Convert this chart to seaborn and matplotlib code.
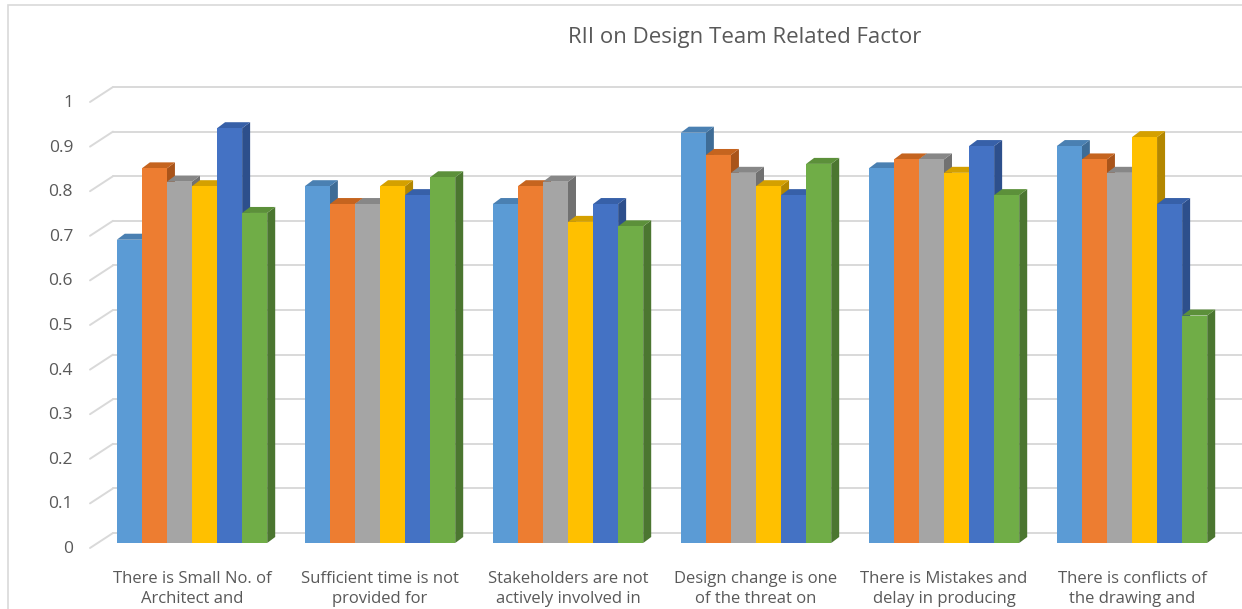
import matplotlib
matplotlib.use("Agg")
import matplotlib.pyplot as plt
from matplotlib.patches import Polygon, Rectangle
from matplotlib.lines import Line2D
import seaborn as sns
import pandas as pd
import numpy as np

# ---- data -------------------------------------------------------------
categories = [
    "There is Small No. of\nArchitect and",
    "Sufficient time is not\nprovided for",
    "Stakeholders are not\nactively involved in",
    "Design change is one\nof the threat on",
    "There is Mistakes and\ndelay in producing",
    "There is conflicts of\nthe drawing and",
]
series_names = ["S1", "S2", "S3", "S4", "S5", "S6"]
s1 = [0.68, 0.80, 0.76, 0.92, 0.84, 0.89]
s2 = [0.84, 0.76, 0.80, 0.87, 0.86, 0.86]
s3 = [0.81, 0.76, 0.81, 0.83, 0.86, 0.83]
s4 = [0.80, 0.80, 0.72, 0.80, 0.83, 0.91]
s5 = [0.93, 0.78, 0.76, 0.78, 0.89, 0.76]
s6 = [0.74, 0.82, 0.71, 0.85, 0.78, 0.51]
y_ticks = [0, 0.1, 0.2, 0.3, 0.4, 0.5, 0.6, 0.7, 0.8, 0.9, 1]
y_tick_labels = ["0", "0.1", "0.2", "0.3", "0.4", "0.5", "0.6", "0.7", "0.8", "0.9", "1"]
title = "RII on Design Team Related Factor"

front_colors = ["#5B9BD5", "#ED7D31", "#A5A5A5", "#FFC000", "#4472C4", "#70AD47"]
top_colors = ["#4A80B2", "#C5641F", "#878787", "#D4A000", "#3760A8", "#5C903A"]
side_colors = ["#3E6C96", "#A9541A", "#717171", "#B38700", "#2D4F8C", "#4B7630"]

all_series = [s1, s2, s3, s4, s5, s6]
df = pd.DataFrame({
    "category": np.repeat(categories, len(series_names)),
    "series": series_names * len(categories),
    "value": [all_series[k][i] for i in range(len(categories)) for k in range(len(series_names))],
})

# ---- figure / axes ----------------------------------------------------
W, H, DPI = 1242, 609, 100
sns.set_theme(style="white")
plt.rcParams["font.family"] = ["Open Sans", "DejaVu Sans"]
fig = plt.figure(figsize=(W / DPI, H / DPI), dpi=DPI)
fig.patch.set_facecolor("white")

ax_left, ax_right = 90, W
ax_top, ax_bottom = 60, 549
ax = fig.add_axes([ax_left / W, 1 - ax_bottom / H,
                   (ax_right - ax_left) / W, (ax_bottom - ax_top) / H])
ax.set_facecolor("none")

sns.barplot(data=df, x="category", y="value", hue="series", order=categories,
            hue_order=series_names, palette=front_colors, width=0.8,
            saturation=1, legend=False, ax=ax, linewidth=0, edgecolor="none")

# scale: 446 px per unit, baseline 6 px above axes bottom; 188 px per category
px_per_y = 446.0
px_per_x = 188.0
ylo = -6 / px_per_y
ax.set_ylim(ylo, ylo + (ax_bottom - ax_top) / px_per_y)
xlo = -(192 - ax_left) / px_per_x
ax.set_xlim(xlo, xlo + (ax_right - ax_left) / px_per_x)

for sp in ax.spines.values():
    sp.set_visible(False)
ax.set_xlabel("")
ax.set_ylabel("")
ax.set_yticks([])
ax.tick_params(axis="x", length=0, pad=16, labelsize=12, labelcolor="#595959")
for lab in ax.get_xticklabels():
    lab.set_linespacing(1.28)

# ---- back wall gridlines (oblique) ------------------------------------
grid_col = "#D9D9D9"
dx_back = 23 / px_per_x
for v, t in zip(y_ticks, y_tick_labels):
    y_front = v - 5 / px_per_y
    y_back = v + 10 / px_per_y
    ax.add_line(Line2D([xlo, xlo + dx_back], [y_front, y_back], color=grid_col,
                       lw=1.4, zorder=0.5, clip_on=False))
    ax.add_line(Line2D([xlo + dx_back, xlo + (ax_right - ax_left) / px_per_x + 1],
                       [y_back, y_back], color=grid_col, lw=1.4, zorder=0.5,
                       clip_on=False))
    ax.text(xlo - 17 / px_per_x, v - 6 / px_per_y, t, ha="right", va="center",
            fontsize=12.5, color="#595959")

# ---- 3D faces for each bar --------------------------------------------
ddx = 8 / px_per_x
ddy = 6 / px_per_y
for k, cont in enumerate(ax.containers):
    z = 2 + k
    for p in cont.patches:
        p.set_zorder(z)
        x0 = p.get_x()
        x1 = x0 + p.get_width()
        h = p.get_height()
        top = Polygon([(x0, h), (x1, h), (x1 + ddx, h + ddy), (x0 + ddx, h + ddy)],
                      closed=True, facecolor=top_colors[k], edgecolor="none",
                      zorder=z - 0.1)
        side = Polygon([(x1, 0), (x1, h), (x1 + ddx, h + ddy), (x1 + ddx, ddy)],
                       closed=True, facecolor=side_colors[k], edgecolor="none",
                       zorder=z - 0.1)
        ax.add_patch(side)
        ax.add_patch(top)

# ---- title and frame ---------------------------------------------------
fig.text(745 / W, 1 - 38 / H, title, ha="center", va="center",
         fontsize=16, color="#595959")
fig.add_artist(Rectangle((7.5 / W, -0.1), 2.0, (H - 5) / H + 0.1,
                         transform=fig.transFigure, fill=False,
                         edgecolor="#D9D9D9", lw=1.2))

fig.savefig("out.png", dpi=DPI)
